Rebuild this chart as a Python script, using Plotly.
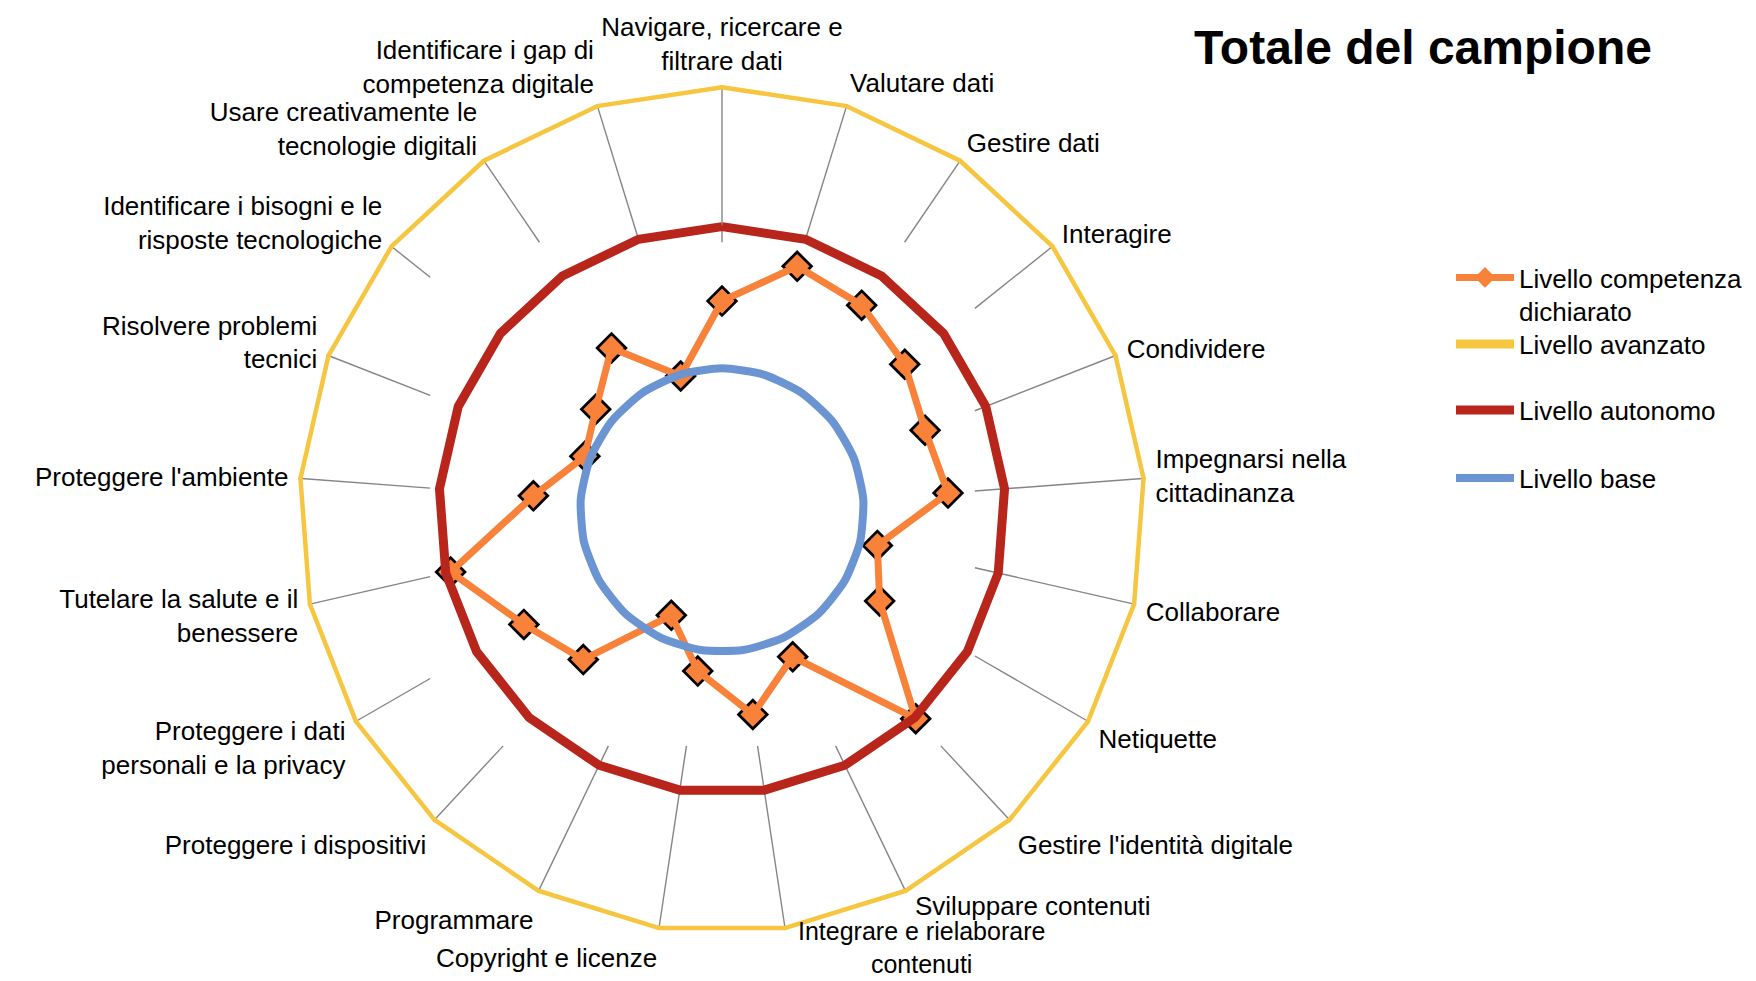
import math
import plotly.graph_objects as go

# ---------------- data ----------------
categories = [
    "Navigare, ricercare e filtrare dati",
    "Valutare dati",
    "Gestire dati",
    "Interagire",
    "Condividere",
    "Impegnarsi nella cittadinanza",
    "Collaborare",
    "Netiquette",
    "Gestire l'identità digitale",
    "Sviluppare contenuti",
    "Integrare e rielaborare contenuti",
    "Copyright e licenze",
    "Programmare",
    "Proteggere i dispositivi",
    "Proteggere i dati personali e la privacy",
    "Tutelare la salute e il benessere",
    "Proteggere l'ambiente",
    "Risolvere problemi tecnici",
    "Identificare i bisogni e le risposte tecnologiche",
    "Usare creativamente le tecnologie digitali",
    "Identificare i gap di competenza digitale",
]

tick_labels = [
    "Navigare, ricercare e<br>filtrare dati",
    "Valutare dati",
    "Gestire dati",
    "Interagire",
    "Condividere",
    "Impegnarsi nella<br>cittadinanza",
    "Collaborare",
    "Netiquette",
    "Gestire l'identità digitale",
    "Sviluppare contenuti",
    "Integrare e rielaborare<br>contenuti",
    "Copyright e licenze",
    "Programmare",
    "Proteggere i dispositivi",
    "Proteggere i dati<br>personali e la privacy",
    "Tutelare la salute e il<br>benessere",
    "Proteggere l'ambiente",
    "Risolvere problemi<br>tecnici",
    "Identificare i bisogni e le<br>risposte tecnologiche",
    "Usare creativamente le<br>tecnologie digitali",
    "Identificare i gap di<br>competenza digitale",
]

livello_dichiarato = [2.95, 3.60, 3.50, 3.30, 3.08, 3.20, 2.25, 2.57, 4.02, 2.30, 2.92,
                      2.30, 1.65, 2.88, 3.23, 3.93, 2.67, 2.08, 2.28, 2.77, 1.98]
livello_avanzato = [6, 6, 6, 6, 6, 6, 6, 6, 6, 6, 6, 6, 6, 6, 6, 6, 6, 6, 6, 6, 6]
livello_autonomo = [4, 4, 4, 4, 4, 4, 4, 4, 4, 4, 4, 4, 4, 4, 4, 4, 4, 4, 4, 4, 4]
livello_base = [2, 2, 2, 2, 2, 2, 2, 2, 2, 2, 2, 2, 2, 2, 2, 2, 2, 2, 2, 2, 2]

series_names = ["Livello competenza<br>dichiarato", "Livello avanzato",
                "Livello autonomo", "Livello base"]
title_text = "Totale del campione"

# ---------------- style ----------------
FONT = "Liberation Sans, Arial, sans-serif"
FS = 26
C_ORANGE = "#F9823A"
C_YELLOW = "#F6C640"
C_RED = "#B7251B"
C_BLUE = "#6B94D3"
C_SPOKE = "#858585"
R_MAX = 6
W, H = 1756, 981
cx, cy, R = 722, 510, 425
# white plot-area box (in radial units) that hides the inner part of the spokes
BOX = dict(left=-4.12, right=3.57, bottom=-3.33, top=3.78)
# bottom labels that the reference squeezes against the outer ring:
# index -> (x px, y px, xanchor, yanchor, font size)
FREE_LABELS = {
    9: (913, 906, "left", "middle", 26),
    10: (921, 980, "center", "bottom", 25),
}


def closed(seq):
    return list(seq) + [seq[0]]


fig = go.Figure()

# spokes (only visible outside the plot-area box)
n = len(categories)
for i, cat in enumerate(categories):
    ang = math.radians(90 - i * 360 / n)
    c, s = math.cos(ang), math.sin(ang)
    cands = []
    if c > 1e-9:
        cands.append(BOX["right"] / c)
    if c < -1e-9:
        cands.append(BOX["left"] / c)
    if s > 1e-9:
        cands.append(BOX["top"] / s)
    if s < -1e-9:
        cands.append(BOX["bottom"] / s)
    r_in = min(min(cands), R_MAX)
    fig.add_trace(go.Scatterpolar(
        r=[r_in, R_MAX], theta=[cat, cat], mode="lines",
        line=dict(color=C_SPOKE, width=1.4), showlegend=False,
        hoverinfo="skip", cliponaxis=False))

# marker "shadows"
fig.add_trace(go.Scatterpolar(
    r=livello_dichiarato, theta=categories, mode="markers",
    marker=dict(symbol="diamond", size=25, color="black"),
    showlegend=False, hoverinfo="skip", cliponaxis=False))

fig.add_trace(go.Scatterpolar(
    r=closed(livello_dichiarato), theta=closed(categories), mode="lines+markers",
    name=series_names[0], legend="legend",
    line=dict(color=C_ORANGE, width=7),
    marker=dict(symbol="diamond", size=19, color=C_ORANGE),
    cliponaxis=False))

fig.add_trace(go.Scatterpolar(
    r=closed(livello_avanzato), theta=closed(categories), mode="lines",
    name=series_names[1], legend="legend2",
    line=dict(color=C_YELLOW, width=9), cliponaxis=False))

fig.add_trace(go.Scatterpolar(
    r=closed(livello_autonomo), theta=closed(categories), mode="lines",
    name=series_names[2], legend="legend3",
    line=dict(color=C_RED, width=9), cliponaxis=False))

fig.add_trace(go.Scatterpolar(
    r=closed(livello_base), theta=closed(categories), mode="lines",
    name=series_names[3], legend="legend4",
    line=dict(color=C_BLUE, width=8, shape="spline", smoothing=0.6),
    cliponaxis=False))

legend_common = dict(
    x=1451 / W, xanchor="left", bgcolor="rgba(0,0,0,0)",
    font=dict(family=FONT, size=FS, color="black"),
    itemwidth=58, valign="top",
)

ticktext = [("" if i in FREE_LABELS else t) for i, t in enumerate(tick_labels)]
annotations = []
for i, (ax, ay, xa, ya, fs) in FREE_LABELS.items():
    annotations.append(dict(
        text=tick_labels[i], xref="paper", yref="paper",
        x=ax / W, y=1 - ay / H, xanchor=xa, yanchor=ya,
        showarrow=False, align="center",
        font=dict(family=FONT, size=fs, color="black")))

fig.update_layout(
    width=W, height=H,
    margin=dict(l=0, r=0, t=0, b=0),
    paper_bgcolor="white",
    font=dict(family=FONT, size=FS, color="black"),
    title=dict(text="<b>" + title_text + "</b>", x=1423 / W, xanchor="center",
               y=1 - 47 / H, yanchor="middle",
               font=dict(family=FONT, size=48, color="black")),
    polar=dict(
        domain=dict(x=[(cx - R) / W, (cx + R) / W],
                    y=[(H - cy - R) / H, (H - cy + R) / H]),
        bgcolor="white",
        gridshape="linear",
        radialaxis=dict(range=[0, R_MAX], visible=False, showgrid=False),
        angularaxis=dict(
            rotation=90, direction="clockwise",
            categoryorder="array", categoryarray=categories,
            tickmode="array", tickvals=categories, ticktext=ticktext,
            showgrid=False, showline=False,
            ticks="outside", ticklen=4, tickcolor="rgba(0,0,0,0)",
            tickfont=dict(family=FONT, size=FS, color="black"),
        ),
    ),
    annotations=annotations,
    legend=dict(**legend_common, y=1 - 254 / H, yanchor="top"),
    legend2=dict(**legend_common, y=1 - 344 / H, yanchor="middle"),
    legend3=dict(**legend_common, y=1 - 410 / H, yanchor="middle"),
    legend4=dict(**legend_common, y=1 - 478 / H, yanchor="middle"),
)

fig.write_html("out.html", config={"displayModeBar": False},
               post_script="document.body.style.margin='0';document.body.style.overflow='hidden';")
